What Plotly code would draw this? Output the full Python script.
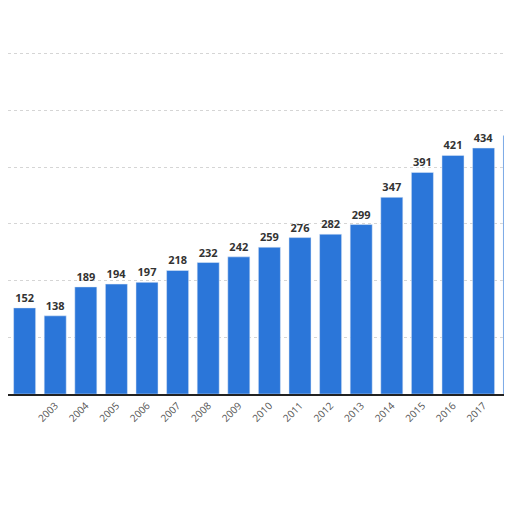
import plotly.graph_objects as go

years = [str(y) for y in range(2001, 2019)]
values = [130, 152, 138, 189, 194, 197, 218, 232, 242, 259, 276, 282, 299, 347, 391, 421, 434, 456]
labels = ["<b>%d</b>" % v for v in values]

xs = list(range(len(years)))

fig = go.Figure()
fig.add_trace(go.Bar(
    x=xs, y=values, width=0.72,
    marker_color="#2b76d9",
    text=labels, textposition="outside",
    textfont=dict(family="Open Sans", size=11, color="#333333"),
    cliponaxis=False,
))

fig.update_xaxes(
    range=[0.457, 17.19], tickvals=xs, ticktext=years, tickangle=-45,
    tickfont=dict(family="Open Sans", size=10, color="#555555"),
    showline=True, linecolor="#222222", linewidth=1.5, showgrid=False, zeroline=False,
    automargin=False,
)
fig.update_yaxes(
    domain=[0.246, 1], range=[0, 681], dtick=100, showticklabels=False,
    gridcolor="#d5d5d5", griddash="dot", zeroline=False, automargin=False,
)
fig.add_annotation(text="rmation", x=0, y=-0.185, xref="paper", yref="paper",
                   xanchor="left", showarrow=False,
                   font=dict(family="Open Sans", size=11, color="#1a73c9"))
fig.add_annotation(text="©", x=1.0, y=-0.135, xref="paper", yref="paper",
                   xanchor="right", showarrow=False,
                   font=dict(family="Open Sans", size=11, color="#555555"))
fig.update_layout(
    width=512, height=512, margin=dict(l=0, r=0, t=0, b=0, autoexpand=False),
    plot_bgcolor="white", paper_bgcolor="white", showlegend=False,
)
fig.write_html("out.html")
